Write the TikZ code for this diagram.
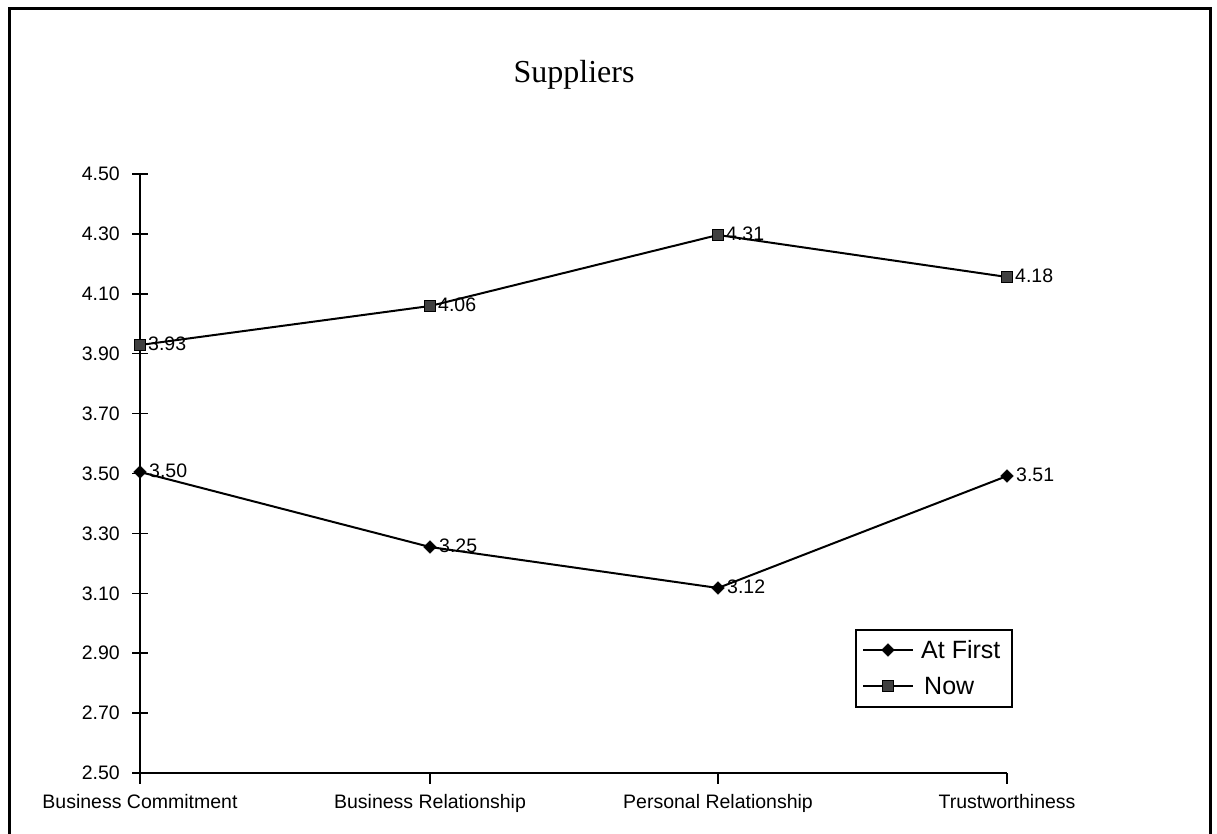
\documentclass[tikz,border=0pt]{standalone}
\usepackage{fontspec}
\setmainfont{Liberation Serif}
\newfontfamily\arialf{Liberation Sans}
\usetikzlibrary{shapes.geometric}
\begin{document}
\begin{tikzpicture}[x=1pt,y=-1pt,
  lbl/.style={font=\arialf\fontsize{19.5}{22}\selectfont, inner sep=0pt},
  ticklbl/.style={lbl, anchor=east},
  catlbl/.style={lbl, anchor=base},
  vallbl/.style={lbl, anchor=west},
  leglbl/.style={font=\arialf\fontsize{25}{28}\selectfont, inner sep=0pt, anchor=west},
  axisline/.style={line width=1.5pt, black},
  dataline/.style={line width=2pt, black},
  dmark/.style={diamond, fill=black, draw=black, inner sep=0pt, minimum width=13pt, minimum height=13pt},
  smark/.style={rectangle, fill=black!75, draw=black, line width=1pt, inner sep=0pt, minimum width=11pt, minimum height=11pt},
  legbox/.style={draw=black, line width=1.5pt, fill=white, inner sep=0pt}]
\useasboundingbox (0,0) rectangle (1217,834);
% frame
\draw[line width=3pt] (9,840) -- (9,9) -- (1210,9) -- (1210,840);
% title
\node[font=\fontsize{32}{35}\selectfont, inner sep=0pt] (title) at (574,75) {Suppliers};
% axes
\coordinate (ytop) at (140,174);
\coordinate (orig) at (140,773);
\coordinate (xend) at (1007,773);
\draw[axisline] (ytop) -- (orig) -- (xend);
% y ticks
\foreach \i/\t in {0/2.50,1/2.70,2/2.90,3/3.10,4/3.30,5/3.50,6/3.70,7/3.90,8/4.10,9/4.30,10/4.50}{
  \coordinate (yt\i) at (140,773-59.9*\i);
  \draw[axisline] ([xshift=-8pt]yt\i) -- ([xshift=8pt]yt\i);
  \node[ticklbl] (yl\i) at (120,773-59.9*\i) {\t};
}
% x ticks and labels
\foreach \x/\n/\t in {140/1/Business Commitment,430/2/Business Relationship,718/3/Personal Relationship,1007/4/Trustworthiness}{
  \coordinate (xt\n) at (\x,773);
  \draw[axisline] (xt\n) -- ++(0,11);
  \node[catlbl] (xl\n) at (\x,808) {\t};
}
% data coordinates
\coordinate (n1) at (140,345);
\coordinate (n2) at (430,306);
\coordinate (n3) at (718,235);
\coordinate (n4) at (1007,277);
\coordinate (a1) at (140,472);
\coordinate (a2) at (430,547);
\coordinate (a3) at (718,588);
\coordinate (a4) at (1007,476);
\draw[dataline] (n1) -- (n2) -- (n3) -- (n4);
\draw[dataline] (a1) -- (a2) -- (a3) -- (a4);
\foreach \k/\v in {1/3.93,2/4.06,3/4.31,4/4.18}{
  \node[smark] (nm\k) at (n\k) {};
  \node[vallbl] (nv\k) at ([xshift=8pt,yshift=1pt]n\k) {\v};
}
\foreach \k/\v in {1/3.50,2/3.25,3/3.12,4/3.51}{
  \node[dmark] (am\k) at (a\k) {};
  \node[vallbl] (av\k) at ([xshift=9pt,yshift=1pt]a\k) {\v};
}
% legend
\node[legbox, minimum width=156pt, minimum height=77pt] (leg) at (934,668.5) {};
\coordinate (l1a) at (863,650);
\coordinate (l1b) at (913,650);
\coordinate (l2a) at (863,686);
\coordinate (l2b) at (913,686);
\draw[dataline] (l1a) -- (l1b);
\draw[dataline] (l2a) -- (l2b);
\node[dmark] (lm1) at (888,650) {};
\node[smark] (lm2) at (888,686) {};
\node[leglbl] (lt1) at (921,650) {At First};
\node[leglbl] (lt2) at (924,686) {Now};
\end{tikzpicture}
\end{document}
